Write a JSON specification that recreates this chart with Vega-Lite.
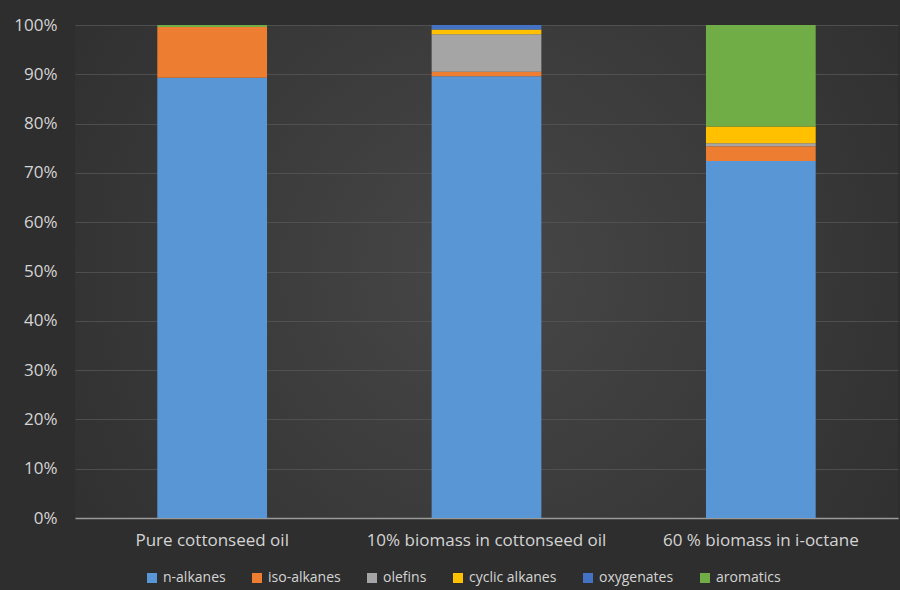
{
  "$schema": "https://vega.github.io/schema/vega-lite/v6.json",
  "width": 823,
  "height": 493,
  "autosize": {"type": "none"},
  "padding": {"left": 75, "top": 25, "right": 2, "bottom": 72},
  "background": "#2e2e2e",
  "data": {
    "values": [
      {"sample": "Pure cottonseed oil", "group": "n-alkanes", "value": 89.3},
      {"sample": "Pure cottonseed oil", "group": "iso-alkanes", "value": 10.3},
      {"sample": "Pure cottonseed oil", "group": "olefins", "value": 0},
      {"sample": "Pure cottonseed oil", "group": "cyclic alkanes", "value": 0},
      {"sample": "Pure cottonseed oil", "group": "oxygenates", "value": 0},
      {"sample": "Pure cottonseed oil", "group": "aromatics", "value": 0.4},
      {"sample": "10% biomass in cottonseed oil", "group": "n-alkanes", "value": 89.6},
      {"sample": "10% biomass in cottonseed oil", "group": "iso-alkanes", "value": 0.9},
      {"sample": "10% biomass in cottonseed oil", "group": "olefins", "value": 7.6},
      {"sample": "10% biomass in cottonseed oil", "group": "cyclic alkanes", "value": 1.0},
      {"sample": "10% biomass in cottonseed oil", "group": "oxygenates", "value": 0.9},
      {"sample": "10% biomass in cottonseed oil", "group": "aromatics", "value": 0},
      {"sample": "60 % biomass in i-octane", "group": "n-alkanes", "value": 72.4},
      {"sample": "60 % biomass in i-octane", "group": "iso-alkanes", "value": 3.0},
      {"sample": "60 % biomass in i-octane", "group": "olefins", "value": 0.6},
      {"sample": "60 % biomass in i-octane", "group": "cyclic alkanes", "value": 3.4},
      {"sample": "60 % biomass in i-octane", "group": "oxygenates", "value": 0},
      {"sample": "60 % biomass in i-octane", "group": "aromatics", "value": 20.6}
    ]
  },
  "transform": [
    {"window": [{"op": "row_number", "as": "stack_rank"}], "groupby": ["sample"]}
  ],
  "mark": {"type": "bar"},
  "encoding": {
    "x": {
      "field": "sample",
      "type": "nominal",
      "sort": null,
      "scale": {"paddingInner": 0.6, "paddingOuter": 0.3},
      "axis": {
        "title": null,
        "labelAngle": 0,
        "labelLimit": 400,
        "labelFont": "Open Sans",
        "labelFontSize": 17,
        "labelColor": "#d4d4d4",
        "labelPadding": 14,
        "domainColor": "#9a9a9a",
        "domainWidth": 1.5,
        "ticks": false,
        "grid": false
      }
    },
    "y": {
      "field": "value",
      "type": "quantitative",
      "stack": "normalize",
      "scale": {"domain": [0, 1]},
      "axis": {
        "title": null,
        "format": ".0%",
        "values": [0, 0.1, 0.2, 0.3, 0.4, 0.5, 0.6, 0.7, 0.8, 0.9, 1],
        "labelOverlap": false,
        "labelFont": "Open Sans",
        "labelFontSize": 17,
        "labelColor": "#d4d4d4",
        "labelPadding": 18,
        "domain": false,
        "ticks": false,
        "gridColor": "#555555",
        "gridWidth": 0.8
      }
    },
    "color": {
      "field": "group",
      "type": "nominal",
      "sort": ["n-alkanes", "iso-alkanes", "olefins", "cyclic alkanes", "oxygenates", "aromatics"],
      "scale": {
        "domain": ["n-alkanes", "iso-alkanes", "olefins", "cyclic alkanes", "oxygenates", "aromatics"],
        "range": ["#5896d6", "#ED7D31", "#A5A5A5", "#FFC000", "#4472C4", "#70AD47"]
      },
      "legend": {
        "title": null,
        "orient": "none",
        "legendX": 70,
        "legendY": 546,
        "direction": "horizontal",
        "symbolType": "square",
        "symbolSize": 100,
        "symbolStrokeWidth": 0,
        "labelFont": "Open Sans",
        "labelFontSize": 14,
        "labelColor": "#d4d4d4",
        "labelOffset": 4,
        "columnPadding": 24
      }
    },
    "order": {"field": "stack_rank", "type": "quantitative", "sort": "ascending"}
  },
  "config": {
    "view": {
      "stroke": null,
      "fill": {
        "gradient": "radial",
        "x1": 0.5, "y1": 0.5, "r1": 0,
        "x2": 0.5, "y2": 0.5, "r2": 0.75,
        "stops": [
          {"offset": 0, "color": "#474747"},
          {"offset": 1, "color": "#2a2a2a"}
        ]
      }
    }
  }
}
